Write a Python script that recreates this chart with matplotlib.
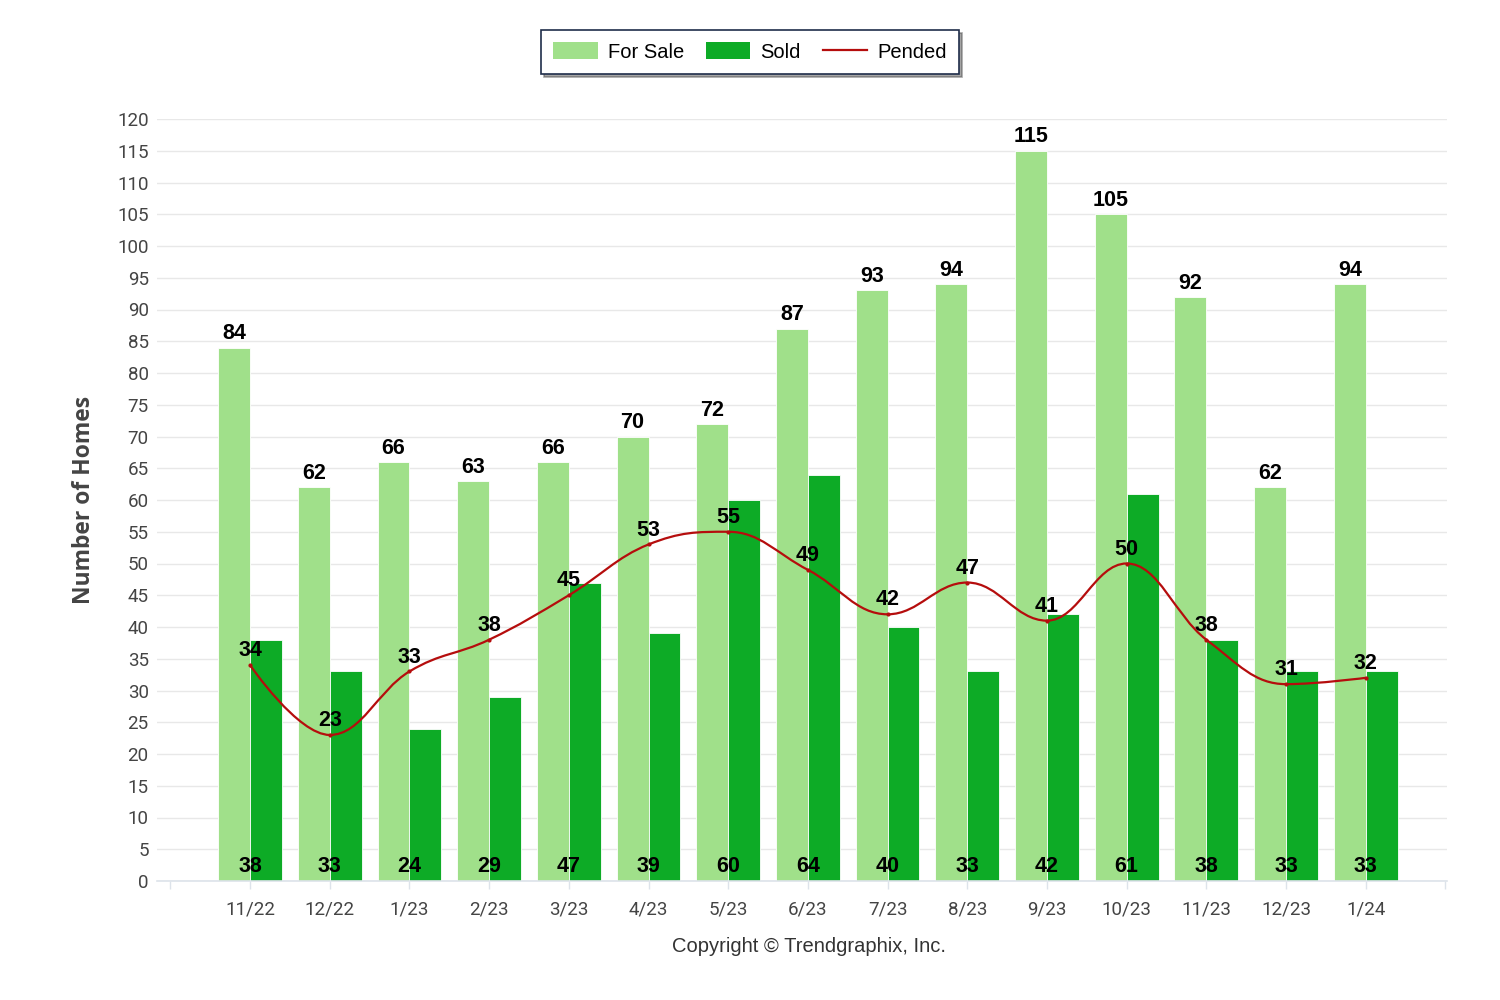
import numpy as np
import matplotlib
matplotlib.use("Agg")
import matplotlib.pyplot as plt
from matplotlib.path import Path
from matplotlib.patches import PathPatch, Patch
from matplotlib.lines import Line2D


months = ["11/22", "12/22", "1/23", "2/23", "3/23", "4/23", "5/23", "6/23",
          "7/23", "8/23", "9/23", "10/23", "11/23", "12/23", "1/24"]
for_sale = [84, 62, 66, 63, 66, 70, 72, 87, 93, 94, 115, 105, 92, 62, 94]
sold = [38, 33, 24, 29, 47, 39, 60, 64, 40, 33, 42, 61, 38, 33, 33]
pended = [34, 23, 33, 38, 45, 53, 55, 49, 42, 47, 41, 50, 38, 31, 32]

c_sale = "#a0e08a"
c_sold = "#0dab26"
c_pend = "#b50d0d"
narrow = ["Roboto", "DejaVu Sans"]
arial = ["Liberation Sans", "DejaVu Sans"]


def spline_path(xs, ys, smoothing=1.5):
    # highcharts style spline: bezier control points around each point
    n = len(xs)
    denom = smoothing + 1
    left = [None] * n
    right = [None] * n
    for i in range(n):
        x, y = xs[i], ys[i]
        if i == 0 or i == n - 1:
            left[i] = (x, y)
            right[i] = (x, y)
            continue
        lx, ly = xs[i - 1], ys[i - 1]
        nx, ny = xs[i + 1], ys[i + 1]
        lcx = (smoothing * x + lx) / denom
        lcy = (smoothing * y + ly) / denom
        rcx = (smoothing * x + nx) / denom
        rcy = (smoothing * y + ny) / denom
        if rcx != lcx:
            corr = (rcy - lcy) * (rcx - x) / (rcx - lcx) + y - rcy
            lcy += corr
            rcy += corr
        if lcy > ly and lcy > y:
            lcy = max(ly, y)
            rcy = 2 * y - lcy
        elif lcy < ly and lcy < y:
            lcy = min(ly, y)
            rcy = 2 * y - lcy
        if rcy > ny and rcy > y:
            rcy = max(ny, y)
            lcy = 2 * y - rcy
        elif rcy < ny and rcy < y:
            rcy = min(ny, y)
            lcy = 2 * y - rcy
        left[i] = (lcx, lcy)
        right[i] = (rcx, rcy)
    verts = [(xs[0], ys[0])]
    codes = [Path.MOVETO]
    for i in range(1, n):
        verts += [right[i - 1], left[i], (xs[i], ys[i])]
        codes += [Path.CURVE4] * 3
    return Path(verts, codes)


fig = plt.figure(figsize=(15, 10), dpi=100)
ax = fig.add_axes([0.1047, 0.119, 0.86, 0.762])

x = np.arange(len(months))
w = 0.4
ax.bar(x - w / 2, for_sale, w, color=c_sale, edgecolor="white", linewidth=0.6, zorder=2)
ax.bar(x + w / 2, sold, w, color=c_sold, edgecolor="white", linewidth=0.6, zorder=2)

path = spline_path(list(x.astype(float)), [float(v) for v in pended])
ax.add_patch(PathPatch(path, facecolor="none", edgecolor=c_pend, linewidth=1.6, zorder=3))
ax.plot(x, pended, linestyle="none", marker="o", markersize=2, color=c_pend, zorder=4)

for i in range(len(months)):
    ax.annotate(str(for_sale[i]), (x[i] - w / 2, for_sale[i]), xytext=(0, 9.9),
                textcoords="offset points", ha="center", va="center",
                fontsize=15.5, fontweight="bold", family=arial, zorder=5)
    ax.annotate(str(sold[i]), (x[i], 0), xytext=(0, 10.8),
                textcoords="offset points", ha="center", va="center",
                fontsize=15.5, fontweight="bold", family=arial, zorder=5)
    ax.annotate(str(pended[i]), (x[i], pended[i]), xytext=(0, 10.3),
                textcoords="offset points", ha="center", va="center",
                fontsize=15.5, fontweight="bold", family=arial, zorder=5)

ax.set_xlim(-1.167, 15.02)
ax.set_ylim(0, 120)
ax.set_yticks(range(0, 121, 5))
ax.set_yticklabels([str(v) for v in range(0, 121, 5)], family=narrow,
                   fontsize=13.5, color="#444444")
ax.set_xticks(list(x) + [-1, 15])
ax.set_xticklabels(months + ["", ""], family=narrow, fontsize=13.5, color="#444444")
ax.tick_params(axis="y", length=0, pad=6)
ax.tick_params(axis="x", length=6, color="#dde3ea", width=1, pad=8)
ax.grid(axis="y", color="#e8e8e8", linewidth=1, zorder=0)
ax.set_axisbelow(True)
for s in ["top", "right", "left"]:
    ax.spines[s].set_visible(False)
ax.spines["bottom"].set_color("#dde3ea")
ax.spines["bottom"].set_linewidth(1.2)

fig.text(0.056, 0.5, "Number of Homes", rotation=90, ha="center", va="center",
         fontsize=16.5, fontweight="bold", family=["Open Sans", "DejaVu Sans"], color="#444444")
fig.text(0.539, 0.053, "Copyright \u00a9 Trendgraphix, Inc.", ha="center", va="center",
         fontsize=14.5, family=arial, color="#333333")

handles = [Patch(facecolor=c_sale, edgecolor="none"),
           Patch(facecolor=c_sold, edgecolor="none"),
           Line2D([0], [0], color=c_pend, linewidth=1.6)]
leg = fig.legend(handles, ["For Sale", "Sold", "Pended"], loc="center",
                 bbox_to_anchor=(0.5, 0.948), ncol=3, frameon=True, fancybox=False,
                 shadow=True, prop={"family": arial, "size": 14.5},
                 handlelength=2.2, handleheight=0.9, columnspacing=1.1,
                 borderpad=0.6, handletextpad=0.5)
leg.get_frame().set_edgecolor("#1f2d4a")
leg.get_frame().set_linewidth(1.2)

fig.savefig("out.png", dpi=100, facecolor="white")
